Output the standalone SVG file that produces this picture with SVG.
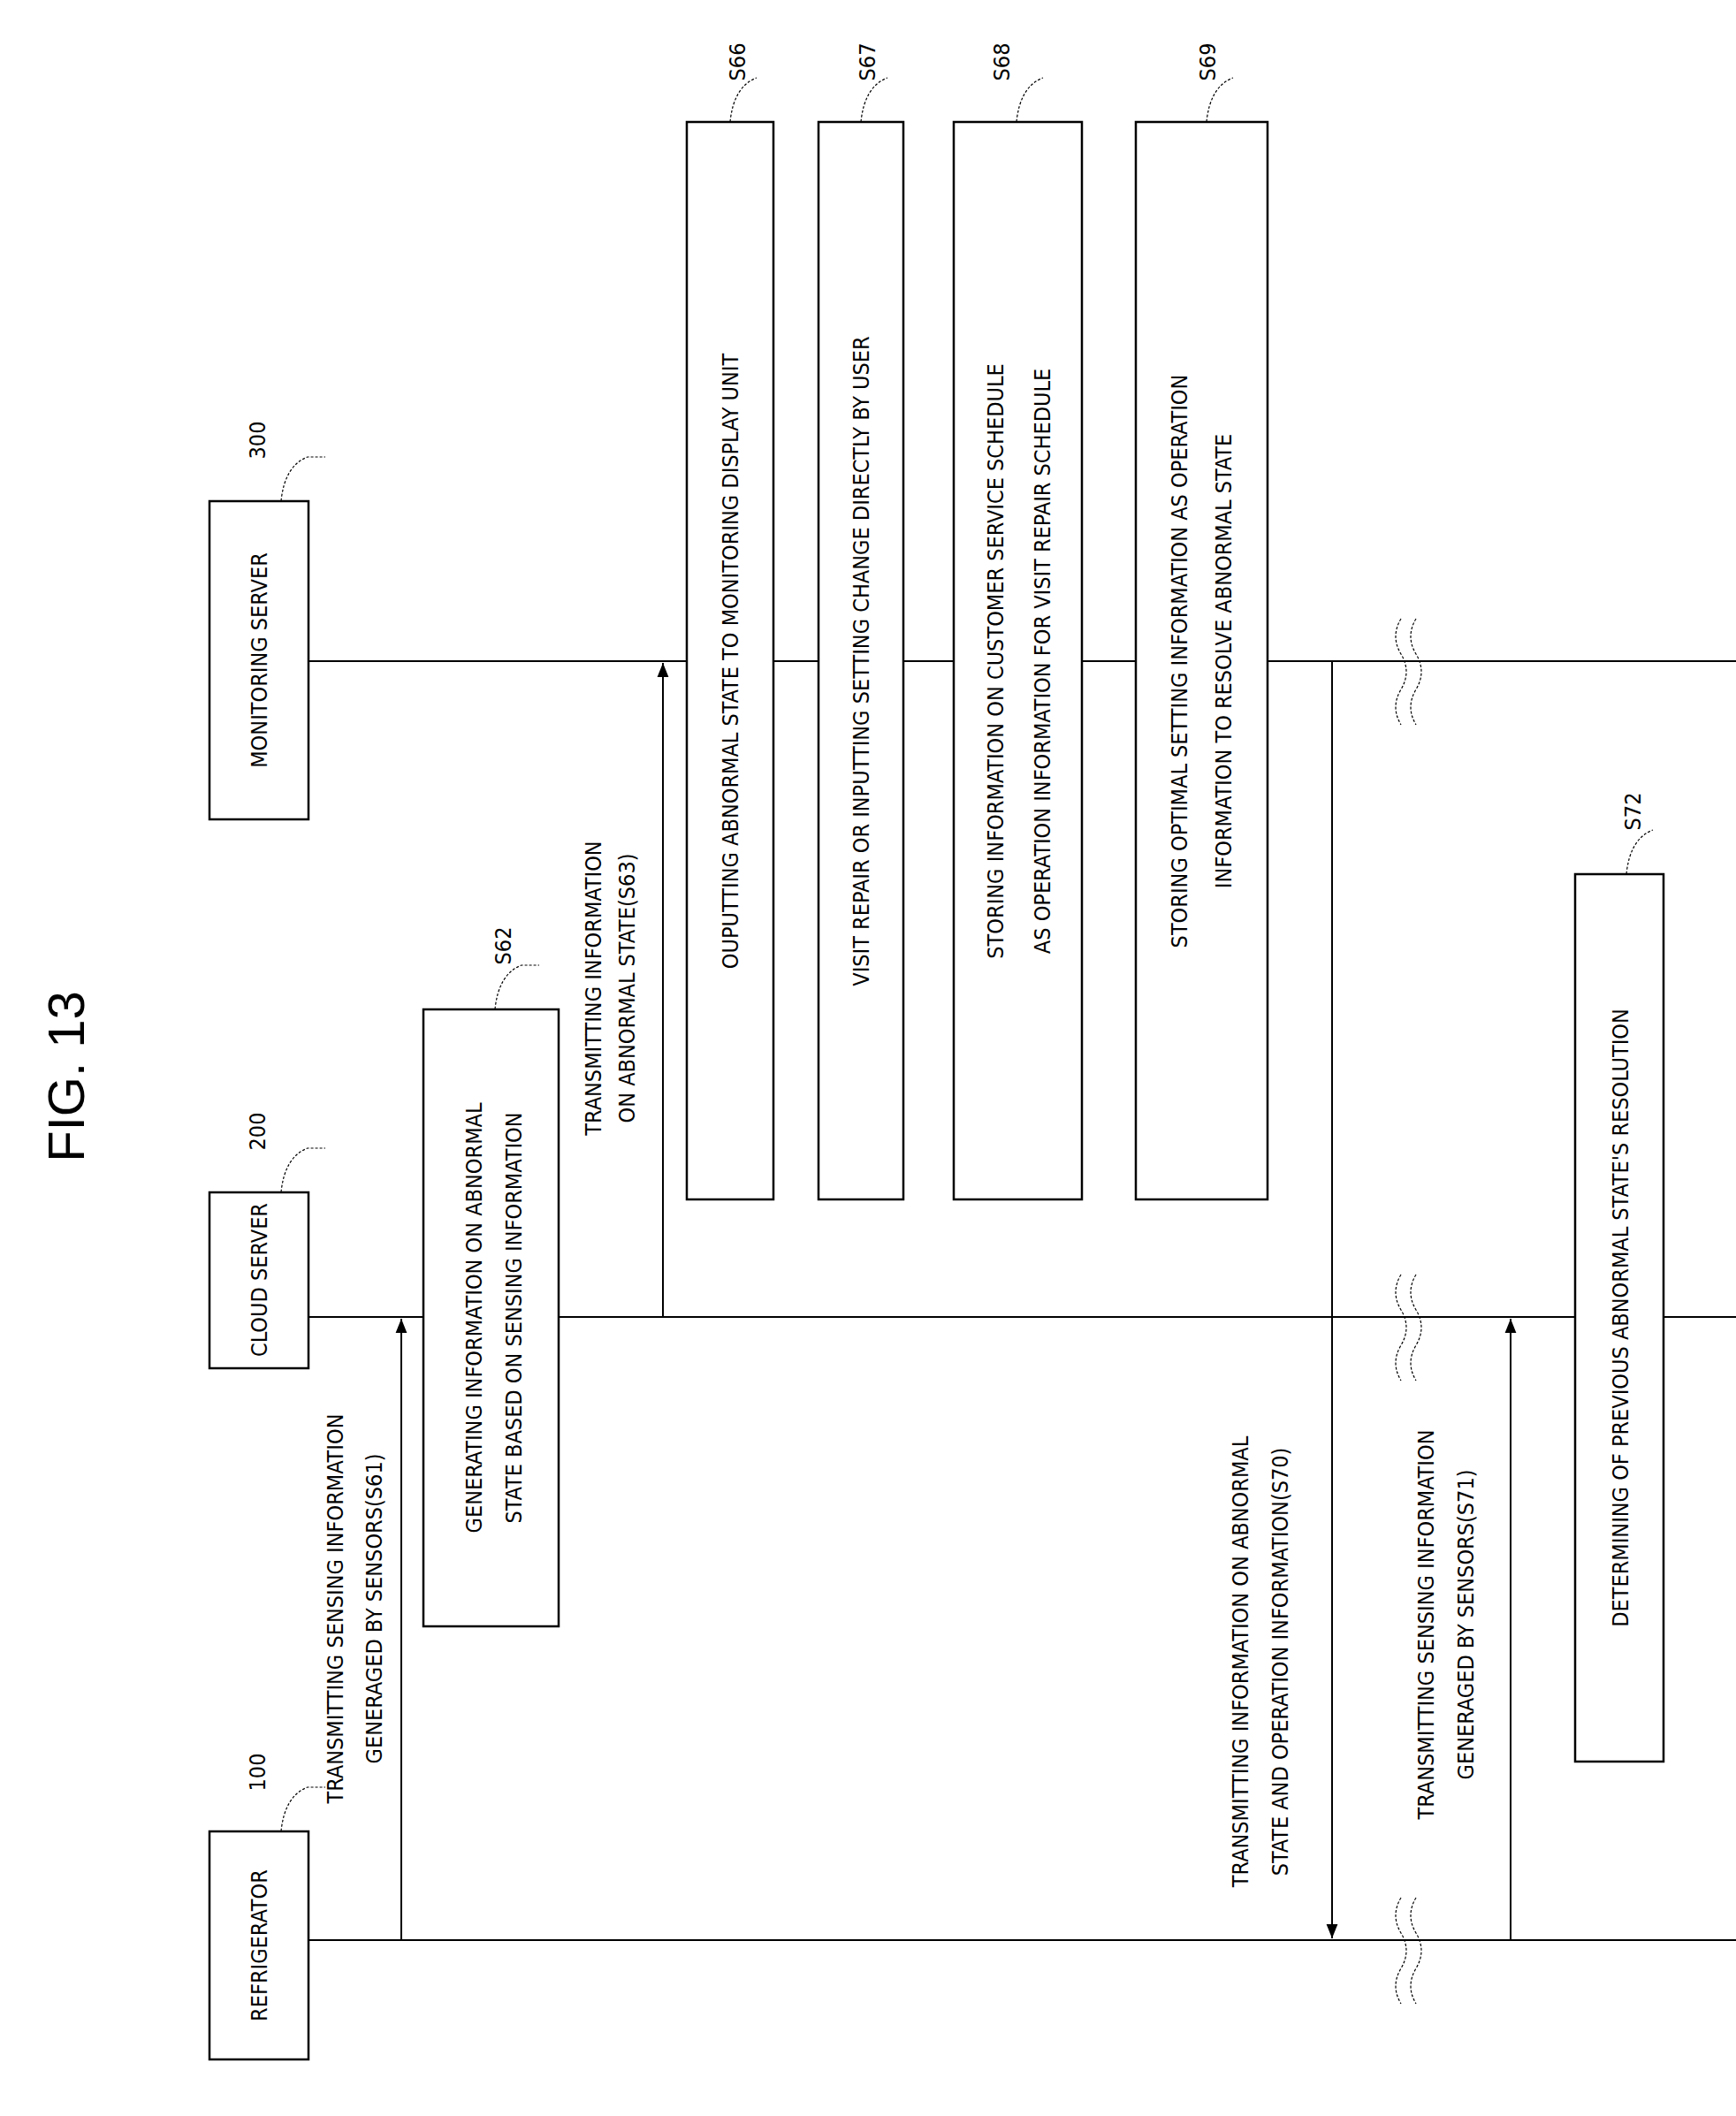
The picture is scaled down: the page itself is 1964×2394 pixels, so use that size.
<svg xmlns="http://www.w3.org/2000/svg" width="1964" height="2394" viewBox="0 0 1964 2394">
<defs>
<marker id="ah" viewBox="0 0 10 10" refX="10" refY="5" markerWidth="8" markerHeight="8" orient="auto-start-reverse"><path d="M0,1 L10,5 L0,9 z" fill="#000"/></marker>
<style>
text{font-family:"Liberation Sans Narrow","DejaVu Sans Condensed","Liberation Sans",sans-serif;font-size:25px;fill:#000}
.box{fill:#fff;stroke:#000;stroke-width:2.5}
.ln{stroke:#000;stroke-width:2;fill:none}
.ld{stroke:#000;stroke-width:1.2;fill:none;stroke-dasharray:3 2}
.c text{text-anchor:middle}
</style>
</defs>
<rect width="1964" height="2394" fill="#fff"/>
<text transform="translate(95,1218) rotate(-90)" style="font-family:'Liberation Sans',sans-serif;font-size:58px" text-anchor="middle">FIG. 13</text>

<g id="connectors">
<line class="ln" x1="349" y1="2195" x2="1964" y2="2195"/>
<line class="ln" x1="349" y1="1490" x2="1964" y2="1490"/>
<line class="ln" x1="349" y1="748" x2="1964" y2="748"/>
<line class="ln" x1="454" y1="2195" x2="454" y2="1492" marker-end="url(#ah)"/>
<line class="ln" x1="750" y1="1490" x2="750" y2="750" marker-end="url(#ah)"/>
<line class="ln" x1="1507" y1="748" x2="1507" y2="2193" marker-end="url(#ah)"/>
<line class="ln" x1="1709" y1="2195" x2="1709" y2="1492" marker-end="url(#ah)"/>
<g class="ld">
<path d="M1585,700 q-12,20 0,40 t0,40 t0,40"/><path d="M1602,700 q-12,20 0,40 t0,40 t0,40"/>
<path d="M1585,1442 q-12,20 0,40 t0,40 t0,40"/><path d="M1602,1442 q-12,20 0,40 t0,40 t0,40"/>
<path d="M1585,2147 q-12,20 0,40 t0,40 t0,40"/><path d="M1602,2147 q-12,20 0,40 t0,40 t0,40"/>
</g>
<g class="c">
<text transform="translate(388,1820) rotate(-90)">TRANSMITTING SENSING INFORMATION</text>
<text transform="translate(432,1820) rotate(-90)">GENERAGED BY SENSORS(S61)</text>
<text transform="translate(680,1118) rotate(-90)">TRANSMITTING INFORMATION</text>
<text transform="translate(718,1118) rotate(-90)">ON ABNORMAL STATE(S63)</text>
<text transform="translate(1412,1880) rotate(-90)">TRANSMITTING INFORMATION ON ABNORMAL</text>
<text transform="translate(1457,1880) rotate(-90)">STATE AND OPERATION INFORMATION(S70)</text>
<text transform="translate(1622,1838) rotate(-90)">TRANSMITTING SENSING INFORMATION</text>
<text transform="translate(1667,1838) rotate(-90)">GENERAGED BY SENSORS(S71)</text>
</g>
</g>

<g id="refrigerator" class="c">
<rect class="box" x="237" y="2072" width="112" height="258"/>
<text transform="translate(302,2201) rotate(-90)">REFRIGERATOR</text>
<path class="ld" d="M318,2072 q4,-40 30,-50 l20,0"/>
<text transform="translate(300,2005) rotate(-90)">100</text>
</g>
<g id="cloud" class="c">
<rect class="box" x="237" y="1349" width="112" height="199"/>
<text transform="translate(302,1448) rotate(-90)">CLOUD SERVER</text>
<path class="ld" d="M318,1349 q4,-40 30,-50 l20,0"/>
<text transform="translate(300,1280) rotate(-90)">200</text>
</g>
<g id="monitor" class="c">
<rect class="box" x="237" y="567" width="112" height="360"/>
<text transform="translate(302,747) rotate(-90)">MONITORING SERVER</text>
<path class="ld" d="M318,567 q4,-40 30,-50 l20,0"/>
<text transform="translate(300,498) rotate(-90)">300</text>
</g>
<g id="s62" class="c">
<rect class="box" x="479" y="1142" width="153" height="698"/>
<text transform="translate(545,1491) rotate(-90)">GENERATING INFORMATION ON ABNORMAL</text>
<text transform="translate(590,1491) rotate(-90)">STATE BASED ON SENSING INFORMATION</text>
<path class="ld" d="M560,1142 q4,-40 30,-50 l20,0"/>
<text transform="translate(578,1070) rotate(-90)">S62</text>
</g>
<g id="s66" class="c">
<rect class="box" x="777" y="138" width="98" height="1219"/>
<text transform="translate(835,748) rotate(-90)">OUPUTTING ABNORMAL STATE TO MONITORING DISPLAY UNIT</text>
<path class="ld" d="M826,138 q4,-40 30,-50"/>
<text transform="translate(843,70) rotate(-90)">S66</text>
</g>
<g id="s67" class="c">
<rect class="box" x="926" y="138" width="96" height="1219"/>
<text transform="translate(983,748) rotate(-90)">VISIT REPAIR OR INPUTTING SETTING CHANGE DIRECTLY BY USER</text>
<path class="ld" d="M974,138 q4,-40 30,-50"/>
<text transform="translate(990,70) rotate(-90)">S67</text>
</g>
<g id="s68" class="c">
<rect class="box" x="1079" y="138" width="145" height="1219"/>
<text transform="translate(1135,748) rotate(-90)">STORING INFORMATION ON CUSTOMER SERVICE SCHEDULE</text>
<text transform="translate(1188,748) rotate(-90)">AS OPERATION INFORMATION FOR VISIT REPAIR SCHEDULE</text>
<path class="ld" d="M1150,138 q4,-40 30,-50"/>
<text transform="translate(1142,70) rotate(-90)">S68</text>
</g>
<g id="s69" class="c">
<rect class="box" x="1285" y="138" width="149" height="1219"/>
<text transform="translate(1343,748) rotate(-90)">STORING OPTIMAL SETTING INFORMATION AS OPERATION</text>
<text transform="translate(1393,748) rotate(-90)">INFORMATION TO RESOLVE ABNORMAL STATE</text>
<path class="ld" d="M1365,138 q4,-40 30,-50"/>
<text transform="translate(1375,70) rotate(-90)">S69</text>
</g>
<g id="s72" class="c">
<rect class="box" x="1782" y="989" width="100" height="1004"/>
<text transform="translate(1842,1491) rotate(-90)">DETERMINING OF PREVIOUS ABNORMAL STATE'S RESOLUTION</text>
<path class="ld" d="M1840,989 q4,-40 30,-50"/>
<text transform="translate(1856,918) rotate(-90)">S72</text>
</g>
</svg>
